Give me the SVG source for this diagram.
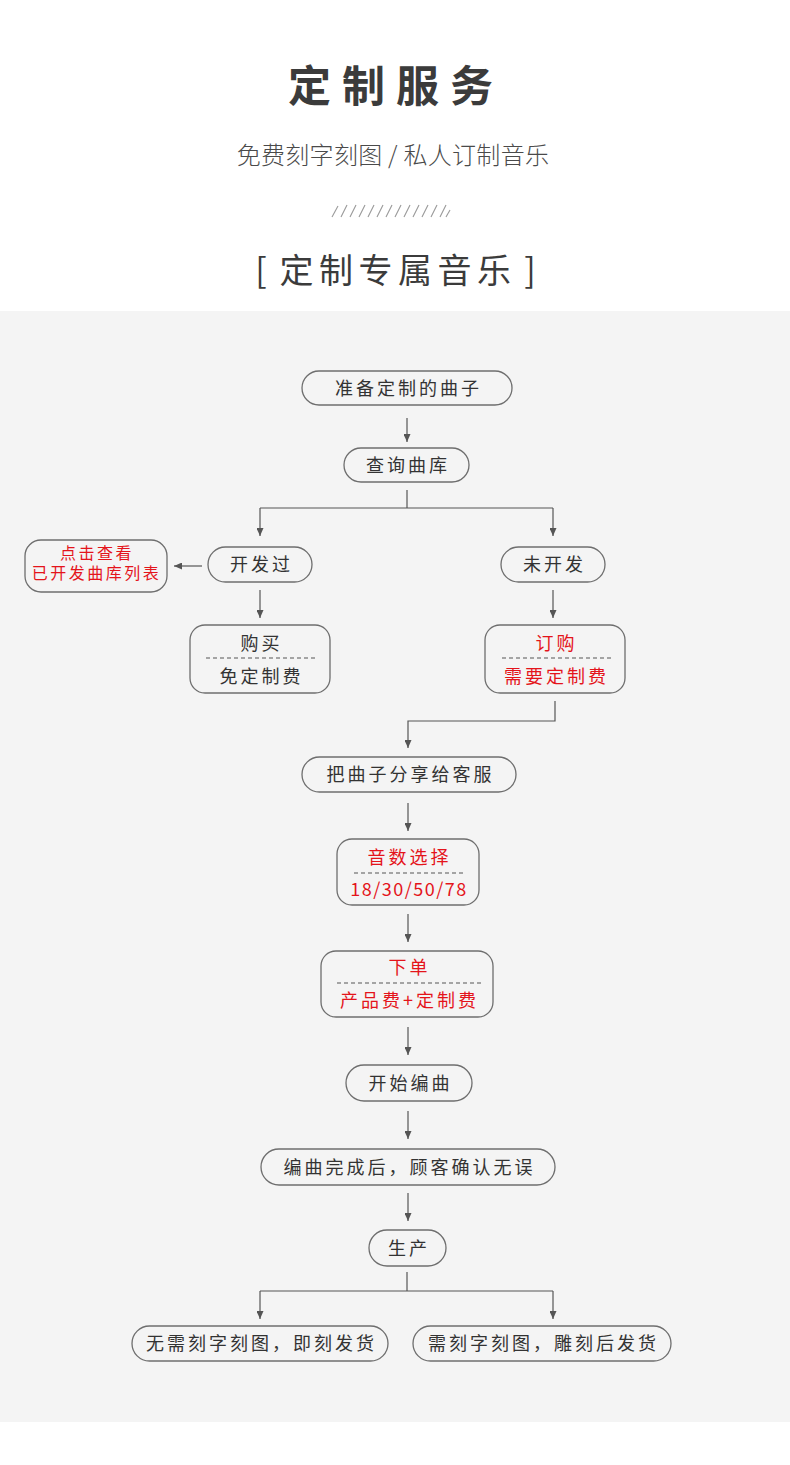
<svg xmlns="http://www.w3.org/2000/svg" width="790" height="1465" viewBox="0 0 790 1465">
<defs>
<style>
.t{font-family:"Noto Sans CJK SC","Noto Sans",sans-serif;font-size:18px;letter-spacing:3px;fill:#333;text-anchor:middle}
.r{fill:#e4141b}
.b{fill:none;stroke:#6e6e6e;stroke-width:1.3}
.c{fill:none;stroke:#555;stroke-width:1.2}
.d{stroke:#555;stroke-width:1;stroke-dasharray:4 3}
.s{stroke:#9a9a9a;stroke-width:1.1}
</style>
<marker id="a" markerWidth="8" markerHeight="7" refX="8" refY="3.5" orient="auto" markerUnits="userSpaceOnUse">
<path d="M0,0 L8,3.5 L0,7 z" fill="#555"/>
</marker>
</defs>
<rect x="0" y="0" width="790" height="1465" fill="#ffffff"/>
<rect x="0" y="311" width="790" height="1111" fill="#f4f4f4"/>

<g id="header">
<text x="396" y="102" style="font-family:'Noto Sans CJK SC',sans-serif;font-size:43px;font-weight:700;letter-spacing:11px;fill:#3b3b3b;text-anchor:middle">定制服务</text>
<text x="393" y="164" style="font-family:'Noto Sans CJK SC',sans-serif;font-size:24px;font-weight:300;letter-spacing:0.3px;fill:#4a4a4a;text-anchor:middle">免费刻字刻图 / 私人订制音乐</text>
<g id="slashes">
<line class="s" x1="332" y1="217" x2="338" y2="206"/>
<line class="s" x1="341" y1="217" x2="347" y2="205"/>
<line class="s" x1="350" y1="217" x2="356" y2="205"/>
<line class="s" x1="359" y1="217" x2="365" y2="205"/>
<line class="s" x1="368" y1="217" x2="374" y2="205"/>
<line class="s" x1="377" y1="217" x2="383" y2="205"/>
<line class="s" x1="386" y1="217" x2="392" y2="205"/>
<line class="s" x1="395" y1="217" x2="401" y2="205"/>
<line class="s" x1="404" y1="217" x2="410" y2="205"/>
<line class="s" x1="413" y1="217" x2="419" y2="205"/>
<line class="s" x1="422" y1="217" x2="428" y2="205"/>
<line class="s" x1="431" y1="217" x2="437" y2="205"/>
<line class="s" x1="440" y1="217" x2="446" y2="205"/>
<line class="s" x1="446" y1="217" x2="450" y2="210"/>
</g>
<text x="261" y="283" style="font-family:'Noto Sans CJK SC',sans-serif;font-size:34px;fill:#3b3b3b;text-anchor:middle">[</text>
<text x="398" y="283" style="font-family:'Noto Sans CJK SC',sans-serif;font-size:34px;letter-spacing:5.5px;fill:#3b3b3b;text-anchor:middle">定制专属音乐</text>
<text x="530" y="283" style="font-family:'Noto Sans CJK SC',sans-serif;font-size:34px;fill:#3b3b3b;text-anchor:middle">]</text>
</g>

<g id="connectors">
<line class="c" x1="407" y1="418" x2="407" y2="442" marker-end="url(#a)"/>
<path class="c" d="M407,490 V508"/>
<path class="c" d="M260,508 H553"/>
<line class="c" x1="260" y1="508" x2="260" y2="536" marker-end="url(#a)"/>
<line class="c" x1="553" y1="508" x2="553" y2="536" marker-end="url(#a)"/>
<line class="c" x1="202" y1="566" x2="174" y2="566" marker-end="url(#a)"/>
<line class="c" x1="260" y1="590" x2="260" y2="618" marker-end="url(#a)"/>
<line class="c" x1="553" y1="590" x2="553" y2="618" marker-end="url(#a)"/>
<path class="c" d="M555,701 V721 H408 V748" marker-end="url(#a)"/>
<line class="c" x1="408" y1="803" x2="408" y2="831" marker-end="url(#a)"/>
<line class="c" x1="408" y1="914" x2="408" y2="942" marker-end="url(#a)"/>
<line class="c" x1="408" y1="1027" x2="408" y2="1055" marker-end="url(#a)"/>
<line class="c" x1="408" y1="1111" x2="408" y2="1139" marker-end="url(#a)"/>
<line class="c" x1="408" y1="1193" x2="408" y2="1221" marker-end="url(#a)"/>
<path class="c" d="M407,1272 V1291"/>
<path class="c" d="M260,1291 H553"/>
<line class="c" x1="260" y1="1291" x2="260" y2="1319" marker-end="url(#a)"/>
<line class="c" x1="553" y1="1291" x2="553" y2="1319" marker-end="url(#a)"/>
</g>

<g id="n1"><rect class="b" x="302" y="371" width="210" height="34" rx="17"/><text class="t" x="408.5" y="395">准备定制的曲子</text></g>
<g id="n2"><rect class="b" x="344" y="448" width="125" height="34" rx="17"/><text class="t" x="408" y="472">查询曲库</text></g>
<g id="n3"><rect class="b" x="208" y="547" width="104" height="35" rx="17.5"/><text class="t" x="261.5" y="571">开发过</text></g>
<g id="n4"><rect class="b" x="501" y="547" width="104" height="35" rx="17.5"/><text class="t" x="554.5" y="571">未开发</text></g>
<g id="n5"><rect class="b" x="25" y="540" width="142" height="52" rx="16"/>
<text class="t r" x="97" y="559" style="font-size:16px;letter-spacing:2.5px">点击查看</text>
<text class="t r" x="96.5" y="579" style="font-size:16px;letter-spacing:2.5px">已开发曲库列表</text></g>
<g id="n6"><rect class="b" x="190" y="625" width="140" height="68" rx="15"/>
<text class="t" x="261.5" y="650">购买</text><line class="d" x1="206" y1="658" x2="315" y2="658"/>
<text class="t" x="261.5" y="683">免定制费</text></g>
<g id="n7"><rect class="b" x="485" y="625" width="140" height="68" rx="15"/>
<text class="t r" x="556.5" y="650">订购</text><line class="d" x1="502" y1="658" x2="611" y2="658"/>
<text class="t r" x="556.5" y="683">需要定制费</text></g>
<g id="n8"><rect class="b" x="302" y="757" width="214" height="35" rx="17.5"/><text class="t" x="410.5" y="781">把曲子分享给客服</text></g>
<g id="n9"><rect class="b" x="337" y="839" width="142" height="66" rx="15"/>
<text class="t r" x="409.5" y="864">音数选择</text><line class="d" x1="354" y1="873" x2="464" y2="873"/>
<text class="t r" x="409" y="896" style="letter-spacing:1.5px">18/30/50/78</text></g>
<g id="n10"><rect class="b" x="321" y="951" width="172" height="66" rx="15"/>
<text class="t r" x="409.5" y="974">下单</text><line class="d" x1="337" y1="983" x2="482" y2="983"/>
<text class="t r" x="409.5" y="1007">产品费+定制费</text></g>
<g id="n11"><rect class="b" x="346" y="1065" width="126" height="36" rx="18"/><text class="t" x="410.5" y="1090">开始编曲</text></g>
<g id="n12"><rect class="b" x="261" y="1149" width="294" height="36" rx="18"/><text class="t" x="409.5" y="1174">编曲完成后，顾客确认无误</text></g>
<g id="n13"><rect class="b" x="369" y="1230" width="77" height="36" rx="18"/><text class="t" x="409" y="1255">生产</text></g>
<g id="n14"><rect class="b" x="132" y="1326" width="256" height="35" rx="17.5"/><text class="t" x="261.5" y="1350">无需刻字刻图，即刻发货</text></g>
<g id="n15"><rect class="b" x="413" y="1326" width="258" height="35" rx="17.5"/><text class="t" x="543.5" y="1350">需刻字刻图，雕刻后发货</text></g>
</svg>
